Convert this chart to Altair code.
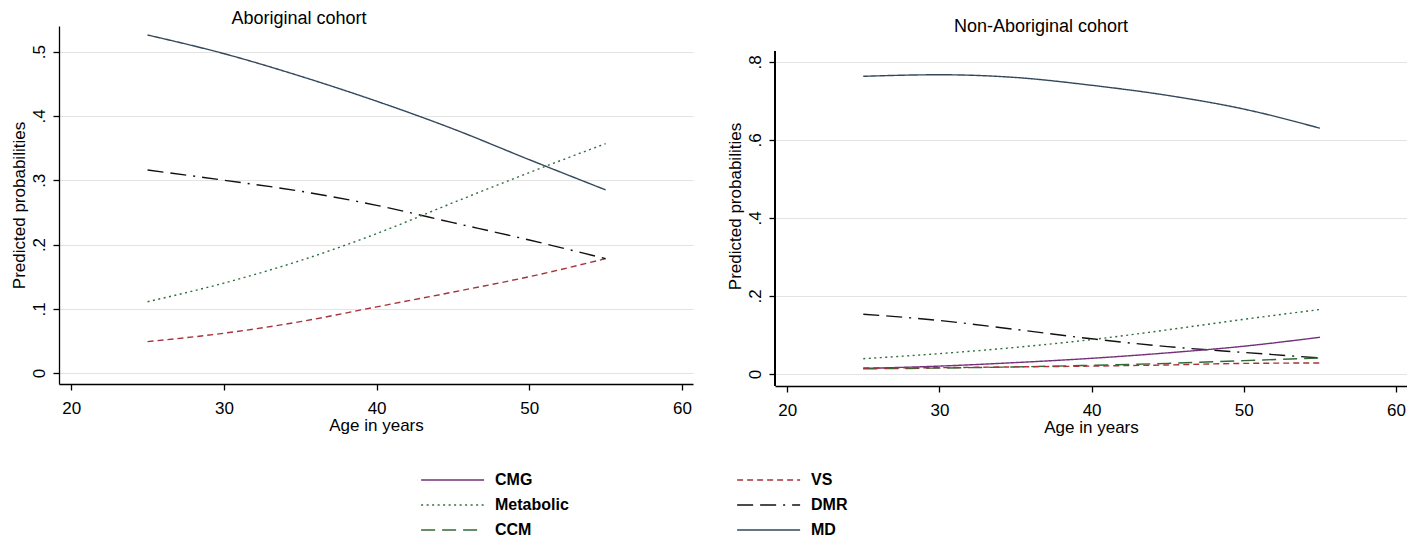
import altair as alt
import pandas as pd

ages = [25, 30, 35, 40, 45, 50, 55]
series_order = ["CMG", "Metabolic", "CCM", "VS", "DMR", "MD"]

# Aboriginal cohort
abo_md = [0.526, 0.497, 0.462, 0.423, 0.380, 0.332, 0.285]
abo_dmr = [0.316, 0.300, 0.283, 0.261, 0.234, 0.207, 0.178]
abo_metabolic = [0.111, 0.140, 0.175, 0.217, 0.265, 0.312, 0.357]
abo_vs = [0.049, 0.062, 0.080, 0.103, 0.126, 0.150, 0.178]

# Non-Aboriginal cohort
non_md = [0.763, 0.767, 0.760, 0.740, 0.714, 0.679, 0.630]
non_dmr = [0.153, 0.137, 0.114, 0.090, 0.070, 0.055, 0.041]
non_metabolic = [0.039, 0.052, 0.068, 0.088, 0.113, 0.140, 0.165]
non_cmg = [0.014, 0.020, 0.029, 0.040, 0.054, 0.071, 0.094]
non_ccm = [0.013, 0.015, 0.018, 0.022, 0.027, 0.034, 0.041]
non_vs = [0.015, 0.016, 0.018, 0.020, 0.023, 0.027, 0.028]

colors = ["#74307a", "#2f6e3e", "#2f6b35", "#a8323a", "#111111", "#34485a"]
dashes = [[1, 0], [2, 3.5], [14, 7], [6, 4], [16, 7, 16, 7, 2, 7], [1, 0]]

x_ticks = [20, 30, 40, 50, 60]
abo_y_ticks = [0, 0.1, 0.2, 0.3, 0.4, 0.5]
non_y_ticks = [0, 0.2, 0.4, 0.6, 0.8]


def long_df(d):
    rows = []
    for name, vals in d.items():
        for a, v in zip(ages, vals):
            rows.append({"age": a, "prob": v, "series": name})
    return pd.DataFrame(rows)


abo_df = long_df({"MD": abo_md, "DMR": abo_dmr, "Metabolic": abo_metabolic, "VS": abo_vs})
non_df = long_df({"MD": non_md, "DMR": non_dmr, "Metabolic": non_metabolic,
                  "CMG": non_cmg, "CCM": non_ccm, "VS": non_vs})

FONT = "Liberation Sans"

legend = alt.Legend(
    title=None, orient="none", legendX=361, legendY=445, columns=2,
    symbolType="M-1,0H7", symbolSize=248, symbolStrokeWidth=1.5,
    labelFont=FONT, labelFontSize=16, labelFontWeight="bold", labelColor="#000000",
    labelOffset=57, columnPadding=165, rowPadding=8,
)

color_enc = alt.Color("series:N", scale=alt.Scale(domain=series_order, range=colors), legend=legend)
dash_enc = alt.StrokeDash("series:N", scale=alt.Scale(domain=series_order, range=dashes), legend=legend)

label_expr = "datum.value == 0 ? '0' : '.' + round(datum.value * 10)"


def panel(df, title, ydom, yticks, width, height, dx, dy, axis_top=None):
    base = alt.Chart(df).mark_line(strokeWidth=1.4, interpolate="monotone").encode(
        x=alt.X("age:Q", scale=alt.Scale(domain=[19.2, 60.72], nice=False, zero=False),
                axis=alt.Axis(values=x_ticks, title="Age in years", grid=False,
                              labelFontSize=17, titleFontSize=17, titleFontWeight="normal",
                              labelPadding=10, titlePadding=1, tickSize=6)),
        y=alt.Y("prob:Q", scale=alt.Scale(domain=ydom, nice=False, zero=False),
                axis=alt.Axis(values=yticks, title="Predicted probabilities", labelExpr=label_expr,
                              labelAngle=270, labelAlign="center", labelBaseline="bottom",
                              labelFontSize=17, titleFontSize=17, titleFontWeight="normal",
                              labelPadding=5, titlePadding=2, tickSize=6,
                              domain=axis_top is None,
                              grid=True, gridColor="#e3e3e3", gridWidth=1.2)),
        color=color_enc,
        strokeDash=dash_enc,
        detail="series:N",
    )
    layers = [base]
    if axis_top is not None:
        layers.append(
            alt.Chart(df).mark_rule(color="#000000", strokeWidth=1.3).encode(
                x=alt.value(0), y=alt.datum(axis_top), y2=alt.datum(ydom[0])
            )
        )
    return alt.layer(*layers).properties(
        width=width, height=height,
        title=alt.TitleParams(title, fontSize=18, fontWeight="normal", font=FONT,
                              anchor="middle", dx=dx, dy=dy, offset=0, color="#000000"),
    )


left = panel(abo_df, "Aboriginal cohort", [-0.017, 0.540], abo_y_ticks, 634, 358, -77, 2)
right = panel(non_df, "Non-Aboriginal cohort", [-0.031, 0.892], non_y_ticks, 632, 360, -50, 10,
              axis_top=0.826)

chart = alt.hconcat(left, right, spacing=33).properties(
    padding={"left": 2, "top": 2, "right": 0, "bottom": 0},
    background="#ffffff",
).configure_view(stroke=None).configure_axis(
    domainColor="#000000", domainWidth=1.3, tickColor="#000000", tickWidth=1.3,
    labelColor="#000000", titleColor="#000000", labelFont=FONT, titleFont=FONT,
).configure_concat(spacing=33)

chart.save("out.html", embed_options={"renderer": "svg", "actions": False})
